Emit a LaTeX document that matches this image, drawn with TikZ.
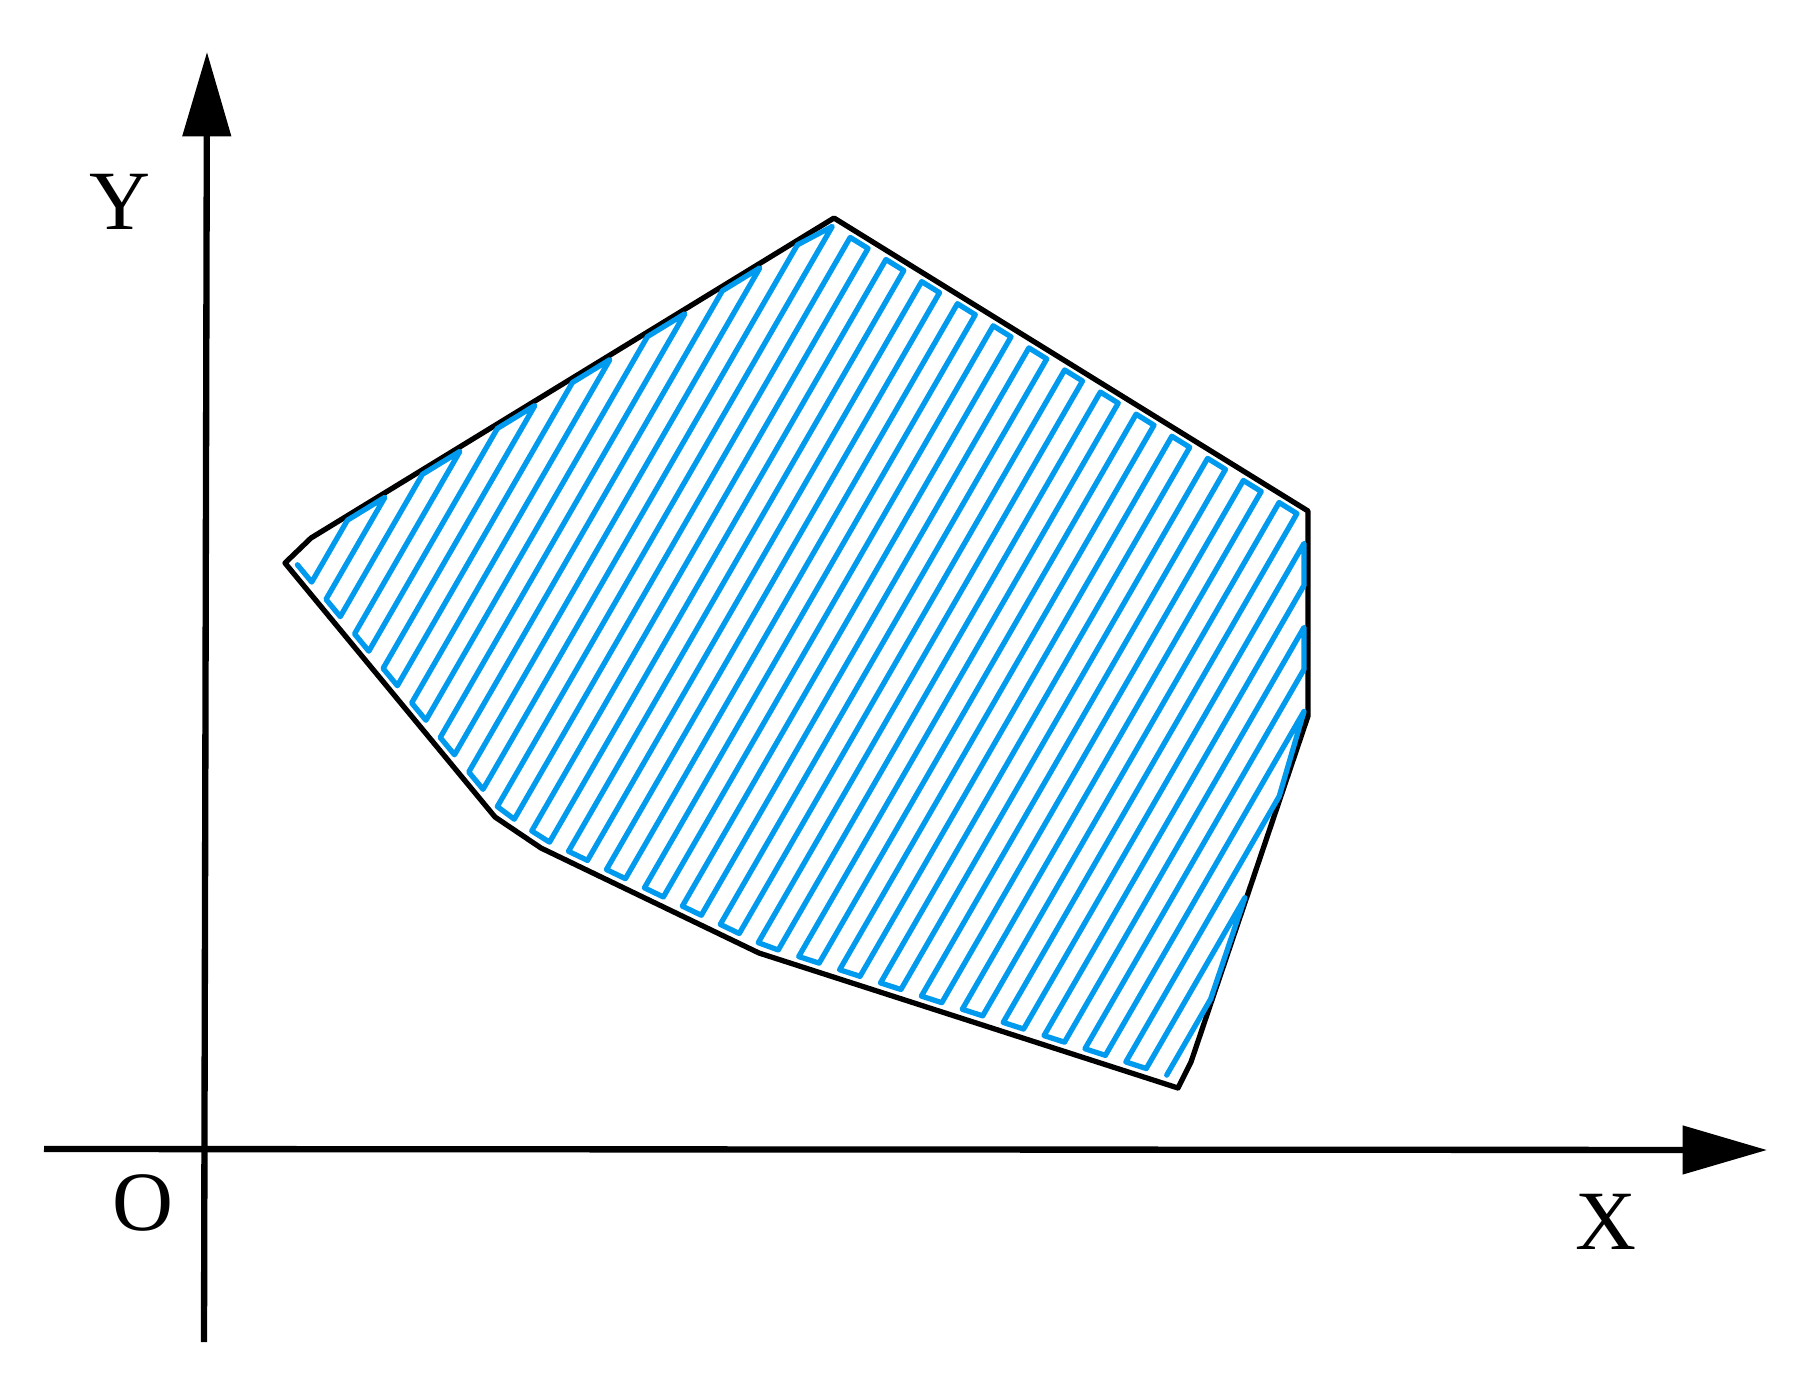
\documentclass[tikz,border=0pt]{standalone}
\usepackage{fontspec}
\setmainfont{Liberation Serif}
\usetikzlibrary{arrows.meta,calc,intersections}
\definecolor{pathblue}{RGB}{0,155,238}
\begin{document}
\begin{tikzpicture}[x=0.01cm,y=-0.01cm,
  axis/.style={line width=1.8pt,-{Triangle[length=24pt,width=13.5pt]}},
  outline/.style={line width=1.5pt,line join=round},
  route/.style={pathblue,line width=1.5pt,line join=round,line cap=round},
  lab/.style={font=\fontsize{24}{28}\selectfont,inner sep=0pt}]
\useasboundingbox (0,0) rectangle (1817,1396);
% axes
\coordinate (ys) at (204,1342);
\coordinate (ye) at (207,52);
\coordinate (xs) at (44,1149);
\coordinate (xe) at (1767,1150);
\draw[axis] (ys) -- (ye);
\draw[axis] (xs) -- (xe);
\node[lab] (Ylab) at (120,202) {Y};
\node[lab] (Olab) at (143,1203) {O};
\node[lab] (Xlab) at (1606,1222) {X};
% region outline
\coordinate (P1) at (834,218);
\coordinate (P2) at (1308,511);
\coordinate (P3) at (1308,716);
\coordinate (P4) at (1191,1062);
\coordinate (P5) at (1178,1088);
\coordinate (P6) at (759,953);
\coordinate (P7) at (541,848);
\coordinate (P8) at (495,817);
\coordinate (P9) at (285,563);
\coordinate (P10) at (311,538);
\draw[outline,name path=poly] (P1) -- (P2) -- (P3) -- (P4) -- (P5) -- (P6) -- (P7) -- (P8) -- (P9) -- (P10) -- cycle;
% zigzag coverage path
\foreach \i in {0,...,48}{
  \pgfmathsetmacro\c{540+21*\i}
  \path[name path=L] ({0.8660*\c-300},{0.5*\c+519.6}) -- ({0.8660*\c+200},{0.5*\c-346.4});
  \path[name intersections={of=L and poly,by={lo\i,hi\i},sort by=L}];
  \pgfmathtruncatemacro\ka{2*\i}
  \pgfmathtruncatemacro\kb{2*\i+1}
  \ifodd\i\relax
    \coordinate (Q\ka) at ($(lo\i)!0.09cm!(hi\i)$);
    \coordinate (Q\kb) at ($(hi\i)!0.08cm!(lo\i)$);
  \else
    \coordinate (Q\ka) at ($(hi\i)!0.08cm!(lo\i)$);
    \coordinate (Q\kb) at ($(lo\i)!0.09cm!(hi\i)$);
  \fi
}
\draw[route] (Q1) \foreach \k in {2,...,97}{ -- (Q\k) };
\end{tikzpicture}
\end{document}
